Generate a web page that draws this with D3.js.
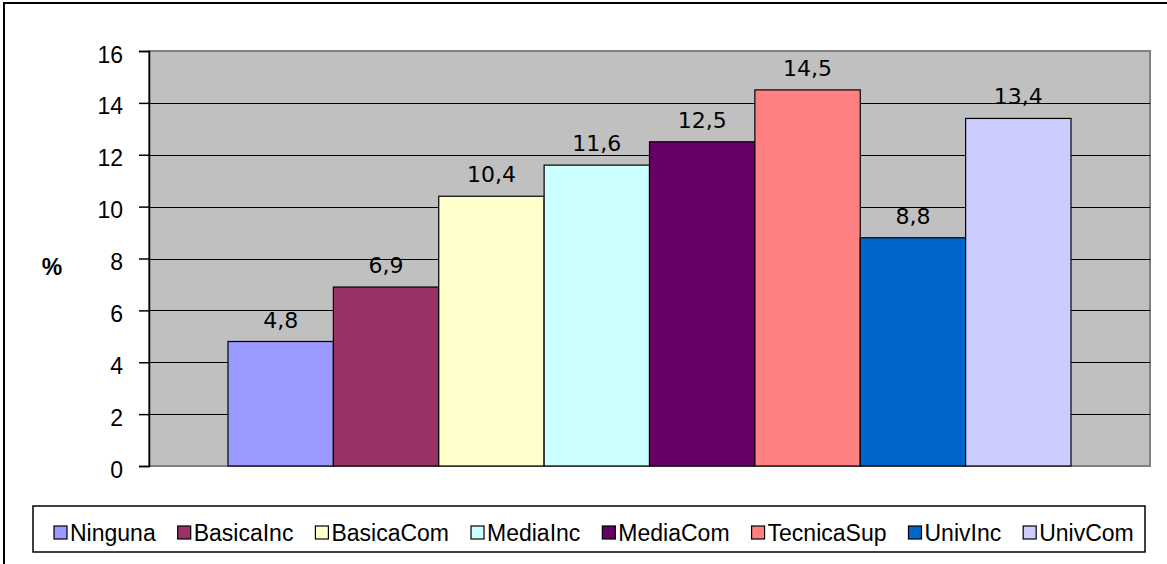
<!DOCTYPE html>
<html>
<head>
<meta charset="utf-8">
<script src="https://cdn.jsdelivr.net/npm/d3@7/dist/d3.min.js"></script>
<style>
  html, body { margin: 0; padding: 0; background: #ffffff; }
  svg { display: block; }
</style>
</head>
<body>
<svg id="chart" width="1167" height="564"></svg>
<script>
// Education levels and their percentages
const categories = ["Ninguna", "BasicaInc", "BasicaCom", "MediaInc", "MediaCom", "TecnicaSup", "UnivInc", "UnivCom"];
const values = [4.8, 6.9, 10.4, 11.6, 12.5, 14.5, 8.8, 13.4];
const valueLabels = ["4,8", "6,9", "10,4", "11,6", "12,5", "14,5", "8,8", "13,4"];
const colors = ["#9999FF", "#993366", "#FFFFCC", "#CCFFFF", "#660066", "#FF8080", "#0066CC", "#CCCCFF"];
const yTicks = [0, 2, 4, 6, 8, 10, 12, 14, 16];
const yTitle = "%";

const svg = d3.select("#chart");
const sansFont = "'Liberation Sans', Arial, sans-serif";
const labelFont = "'DejaVu Sans', Verdana, sans-serif";

// outer chart frame
svg.append("rect")
  .attr("x", 4).attr("y", 3)
  .attr("width", 1300).attr("height", 700)
  .attr("fill", "#ffffff")
  .attr("stroke", "#000000").attr("stroke-width", 2);

const plot = { left: 149, right: 1150, top: 51, bottom: 466 };

const y = d3.scaleLinear().domain([0, 16]).range([plot.bottom, plot.top]);
const x = d3.scaleBand()
  .domain(categories)
  .range([plot.left + 79, plot.right - 79])
  .paddingInner(0).paddingOuter(0);

// plot background
svg.append("rect")
  .attr("x", plot.left).attr("y", plot.top)
  .attr("width", plot.right - plot.left).attr("height", plot.bottom - plot.top)
  .attr("fill", "#C0C0C0")
  .attr("stroke", "#808080").attr("stroke-width", 2);

// horizontal gridlines
svg.append("g")
  .selectAll("line")
  .data(yTicks.filter(t => t > 0 && t < 16))
  .join("line")
  .attr("x1", plot.left).attr("x2", plot.right)
  .attr("y1", d => Math.round(y(d)) + 0.5).attr("y2", d => Math.round(y(d)) + 0.5)
  .attr("stroke", "#000000").attr("stroke-width", 1);

// bars
svg.append("g")
  .selectAll("rect")
  .data(categories)
  .join("rect")
  .attr("x", d => x(d))
  .attr("y", (d, i) => y(values[i]))
  .attr("width", x.bandwidth())
  .attr("height", (d, i) => y(0) - y(values[i]))
  .attr("fill", (d, i) => colors[i])
  .attr("stroke", "#000000").attr("stroke-width", 1.2);

// value labels above bars
svg.append("g")
  .selectAll("text")
  .data(categories)
  .join("text")
  .attr("x", d => x(d) + x.bandwidth() / 2)
  .attr("y", (d, i) => y(values[i]) - 14)
  .attr("text-anchor", "middle")
  .attr("font-family", labelFont)
  .attr("font-size", 22)
  .attr("fill", "#000000")
  .text((d, i) => valueLabels[i]);

// y axis
const yAxis = d3.axisLeft(y)
  .tickValues(yTicks)
  .tickSize(10)
  .tickPadding(16)
  .tickFormat(d3.format("d"));
const gy = svg.append("g")
  .attr("transform", `translate(${plot.left},0)`)
  .call(yAxis);
gy.select(".domain").attr("stroke", "#000000").attr("stroke-width", 1.5);
gy.selectAll(".tick line").attr("stroke", "#000000").attr("stroke-width", 1.5);
gy.selectAll(".tick text")
  .attr("font-family", sansFont)
  .attr("font-size", 23)
  .attr("fill", "#000000")
  .attr("dy", "0.48em");

// y axis title
svg.append("text")
  .attr("x", 52).attr("y", 275)
  .attr("text-anchor", "middle")
  .attr("font-family", sansFont)
  .attr("font-size", 23)
  .attr("font-weight", "bold")
  .text(yTitle);

// legend
const legend = svg.append("g");
legend.append("rect")
  .attr("x", 33).attr("y", 506)
  .attr("width", 1112).attr("height", 46)
  .attr("fill", "#ffffff")
  .attr("stroke", "#000000").attr("stroke-width", 1.5);

let lx = 54;
categories.forEach((c, i) => {
  legend.append("rect")
    .attr("x", lx).attr("y", 526)
    .attr("width", 13).attr("height", 13)
    .attr("fill", colors[i])
    .attr("stroke", "#000000").attr("stroke-width", 1.2);
  const t = legend.append("text")
    .attr("x", lx + 16).attr("y", 541)
    .attr("font-family", sansFont)
    .attr("font-size", 23)
    .attr("fill", "#000000")
    .text(c);
  lx += 16 + t.node().getComputedTextLength() + 22;
});
</script>
</body>
</html>
